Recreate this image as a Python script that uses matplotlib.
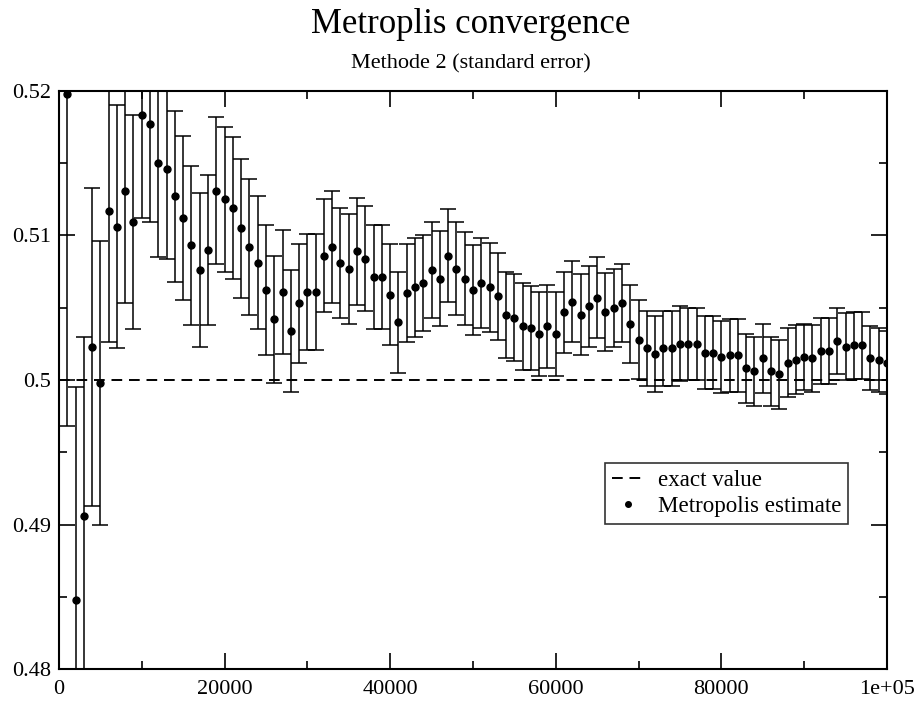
"""
Metropolis convergence plot: running estimate with standard error bars.
"""

import numpy as np
import matplotlib
matplotlib.use('Agg')
import matplotlib.pyplot as plt
from matplotlib.ticker import MultipleLocator

plt.rcParams['font.family'] = ['Liberation Serif', 'DejaVu Serif']

# number of samples (in thousands) and running estimate
n_samples = np.arange(1, 101) * 1000
estimate = [0.5198, 0.4848, 0.4906, 0.5023, 0.4998, 0.5117, 0.5106, 0.5131, 0.5109, 0.5183,
            0.5177, 0.5150, 0.5146, 0.5127, 0.5112, 0.5093, 0.5076, 0.5090, 0.5131, 0.5125,
            0.5119, 0.5105, 0.5092, 0.5081, 0.5062, 0.5042, 0.5061, 0.5034, 0.5053, 0.5061,
            0.5061, 0.5086, 0.5092, 0.5081, 0.5077, 0.5089, 0.5084, 0.5071, 0.5071, 0.5059,
            0.5040, 0.5060, 0.5064, 0.5067, 0.5076, 0.5070, 0.5086, 0.5077, 0.5070, 0.5062,
            0.5067, 0.5064, 0.5058, 0.5045, 0.5043, 0.5037, 0.5036, 0.5032, 0.5037, 0.5032,
            0.5047, 0.5054, 0.5045, 0.5051, 0.5057, 0.5047, 0.5050, 0.5053, 0.5039, 0.5028,
            0.5022, 0.5018, 0.5022, 0.5022, 0.5025, 0.5025, 0.5025, 0.5019, 0.5019, 0.5016,
            0.5017, 0.5017, 0.5008, 0.5006, 0.5015, 0.5006, 0.5004, 0.5012, 0.5014, 0.5016,
            0.5015, 0.5020, 0.5020, 0.5027, 0.5023, 0.5024, 0.5024, 0.5015, 0.5014, 0.5012]
std_error = [0.0230, 0.0147, 0.0124, 0.0110, 0.0098, 0.0091, 0.0084, 0.0078, 0.0074, 0.0071,
             0.0068, 0.0065, 0.0062, 0.0059, 0.0057, 0.0055, 0.0053, 0.0052, 0.0051, 0.0050,
             0.0049, 0.0048, 0.0047, 0.0046, 0.0045, 0.0044, 0.0043, 0.0042, 0.0041, 0.0040,
             0.0040, 0.0039, 0.0039, 0.0038, 0.0038, 0.0037, 0.0036, 0.0036, 0.0036, 0.0035,
             0.0035, 0.0034, 0.0034, 0.0033, 0.0033, 0.0033, 0.0032, 0.0032, 0.0032, 0.0031,
             0.0031, 0.0031, 0.0030, 0.0030, 0.0030, 0.0030, 0.0029, 0.0029, 0.0029, 0.0029,
             0.0028, 0.0028, 0.0028, 0.0028, 0.0028, 0.0027, 0.0027, 0.0027, 0.0027, 0.0027,
             0.0026, 0.0026, 0.0026, 0.0026, 0.0026, 0.0025, 0.0025, 0.0025, 0.0025, 0.0025,
             0.0025, 0.0025, 0.0024, 0.0024, 0.0024, 0.0024, 0.0024, 0.0024, 0.0024, 0.0023,
             0.0023, 0.0023, 0.0023, 0.0023, 0.0023, 0.0023, 0.0023, 0.0022, 0.0022, 0.0022]
exact_value = 0.5

xtick_values = [0, 20000, 40000, 60000, 80000, 100000]
xtick_labels = ['0', '20000', '40000', '60000', '80000', '1e+05']
ytick_values = [0.48, 0.49, 0.50, 0.51, 0.52]
ytick_labels = ['0.48', '0.49', '0.5', '0.51', '0.52']

fig = plt.figure(figsize=(9.2, 7.01), dpi=100)
ax = fig.add_axes([0.0641, 0.0452, 0.9, 0.8254])

plt.sca(ax)
plt.plot([0, 100000], [exact_value, exact_value], color='k', lw=1.4,
         ls=(0, (5.5, 3.5)), label='exact value')
plt.errorbar(n_samples, estimate, yerr=std_error, fmt='none', ecolor='k',
             elinewidth=1.1, capsize=5.8, capthick=1.1)
plt.plot(n_samples, estimate, 'o', color='k', ms=5, label='Metropolis estimate')

plt.xlim(0, 100000)
plt.ylim(0.48, 0.52)
plt.xticks(xtick_values, xtick_labels, fontsize=16)
plt.yticks(ytick_values, ytick_labels, fontsize=16)
ax.xaxis.set_minor_locator(MultipleLocator(10000))
ax.yaxis.set_minor_locator(MultipleLocator(0.005))
# ticks inside on all four sides
ax.tick_params(which='both', direction='in', top=True, right=True, width=1.2)
ax.tick_params(which='major', length=11.5, pad=6)
ax.tick_params(axis='x', which='major', pad=8)
ax.tick_params(which='minor', length=6)
for spine in ax.spines.values():
    spine.set_linewidth(1.5)

leg = plt.legend(loc='upper right', bbox_to_anchor=(0.953, 0.3566), borderaxespad=0,
                 fontsize=16.6, frameon=True, fancybox=False, edgecolor='k',
                 handlelength=1.45, handletextpad=0.55, labelspacing=0.22,
                 borderpad=0.3, markerscale=0.8)
leg.get_frame().set_linewidth(1.2)

fig.text(0.512, 0.953, 'Metroplis convergence', fontsize=25, ha='center', va='baseline')
fig.text(0.512, 0.9016, 'Methode 2 (standard error)', fontsize=16, ha='center', va='baseline')

plt.savefig('out.png', dpi=100)
